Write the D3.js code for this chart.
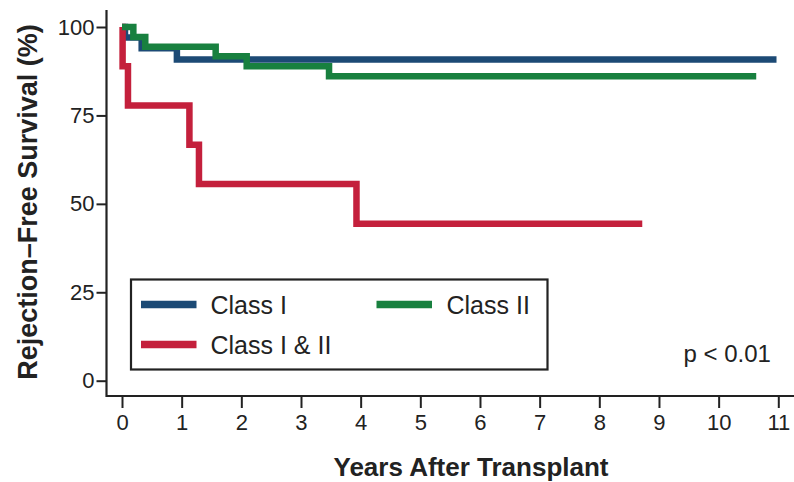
<!DOCTYPE html>
<html>
<head>
<meta charset="utf-8">
<script src="https://cdn.jsdelivr.net/npm/d3@7"></script>
<style>
  html, body { margin: 0; padding: 0; background: #fff; }
  svg { display: block; font-family: "Liberation Sans", Arial, sans-serif; }
</style>
</head>
<body>
<svg id="chart" width="794" height="482"></svg>
<script>
// Kaplan–Meier rejection-free survival by antibody class
const xTicks = [0, 1, 2, 3, 4, 5, 6, 7, 8, 9, 10, 11];
const yTicks = [0, 25, 50, 75, 100];

const classITimes = [0, 0.05, 0.33, 0.92, 10.97];
const classIValues = [100, 97.0, 94.0, 90.8, 90.8];

const classIIITimes = [0, 0.01, 0.1, 1.13, 1.29, 3.93, 8.72];
const classIIIValues = [100, 88.9, 77.8, 66.7, 55.6, 44.4, 44.4];

const classIITimes = [0, 0.19, 0.39, 1.57, 2.09, 3.47, 10.63];
const classIIValues = [100, 97.2, 94.4, 91.7, 88.9, 86.1, 86.1];

const seriesNames = ["Class I", "Class II", "Class I & II"];
const colors = { "Class I": "#1c4a75", "Class II": "#18803f", "Class I & II": "#c4203c" };

const svg = d3.select("#chart");
const ink = "#222";

const x = d3.scaleLinear().domain([0, 11]).range([122, 778.3]);
const y = d3.scaleLinear().domain([0, 100]).range([380.7, 27]);

// Axes
const xAxis = d3.axisBottom(x).tickValues(xTicks).tickSize(12).tickPadding(6).tickSizeOuter(0);
const gx = svg.append("g").attr("transform", "translate(0,396)").call(xAxis);
gx.select(".domain").remove();
gx.append("line").attr("x1", 106).attr("x2", 794).attr("stroke", ink).attr("stroke-width", 2.2);
gx.selectAll(".tick line").attr("stroke", ink).attr("stroke-width", 2);
gx.selectAll(".tick text").attr("fill", ink).attr("font-size", 22).attr("font-family", "Liberation Sans, Arial, sans-serif");

const yAxis = d3.axisLeft(y).tickValues(yTicks).tickSize(10).tickPadding(2).tickSizeOuter(0);
const gy = svg.append("g").attr("transform", "translate(106.5,0)").call(yAxis);
gy.select(".domain").remove();
gy.append("line").attr("y1", 10).attr("y2", 397).attr("stroke", ink).attr("stroke-width", 2.2);
gy.selectAll(".tick line").attr("stroke", ink).attr("stroke-width", 2);
gy.selectAll(".tick text").attr("fill", ink).attr("font-size", 22).attr("font-family", "Liberation Sans, Arial, sans-serif");

// Axis titles
svg.append("text")
  .attr("transform", "translate(37,202) rotate(-90)")
  .attr("text-anchor", "middle")
  .attr("font-size", 27).attr("font-weight", "bold").attr("fill", ink)
  .text("Rejection\u2013Free Survival (%)");

svg.append("text")
  .attr("x", 471).attr("y", 476)
  .attr("text-anchor", "middle")
  .attr("font-size", 26).attr("font-weight", "bold").attr("fill", ink)
  .text("Years After Transplant");

// Survival curves
const stepLine = d3.line()
  .x(d => x(d[0]))
  .y(d => y(d[1]))
  .curve(d3.curveStepAfter);

const curves = [
  { name: "Class I", t: classITimes, v: classIValues },
  { name: "Class I & II", t: classIIITimes, v: classIIIValues },
  { name: "Class II", t: classIITimes, v: classIIValues }
];

curves.forEach(c => {
  const pts = c.t.map((t, i) => [t, c.v[i]]);
  svg.append("path")
    .attr("d", stepLine(pts))
    .attr("fill", "none")
    .attr("stroke", colors[c.name])
    .attr("stroke-width", 6.5)
    .attr("stroke-linejoin", "miter")
    .attr("stroke-linecap", "butt");
});

// Legend
const legend = svg.append("g");
legend.append("rect")
  .attr("x", 131).attr("y", 279.5).attr("width", 416.5).attr("height", 90)
  .attr("fill", "#fff").attr("stroke", ink).attr("stroke-width", 2.2);

const legendItems = [
  { name: "Class I", lx: 141, ly: 304.5, tx: 210.5, ty: 313.5 },
  { name: "Class II", lx: 376.5, ly: 304.5, tx: 446.5, ty: 313.5 },
  { name: "Class I & II", lx: 141, ly: 344.5, tx: 210.5, ty: 353.5 }
];
legendItems.forEach(d => {
  legend.append("line")
    .attr("x1", d.lx).attr("x2", d.lx + 55.5)
    .attr("y1", d.ly).attr("y2", d.ly)
    .attr("stroke", colors[d.name]).attr("stroke-width", 7.5);
  legend.append("text")
    .attr("x", d.tx).attr("y", d.ty)
    .attr("font-size", 25).attr("fill", ink)
    .text(d.name);
});

svg.append("text")
  .attr("x", 683.5).attr("y", 361.5)
  .attr("font-size", 24).attr("fill", ink)
  .text("p < 0.01");
</script>
</body>
</html>
